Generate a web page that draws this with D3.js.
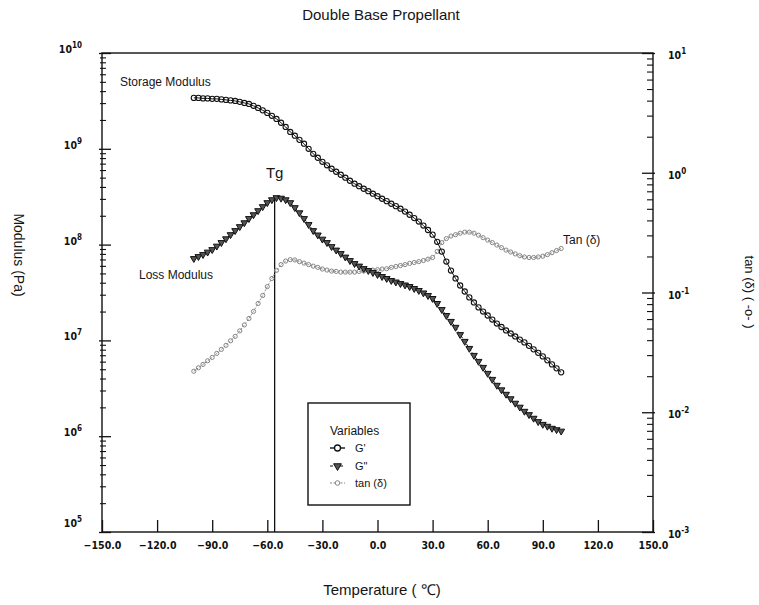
<!DOCTYPE html>
<html>
<head>
<meta charset="utf-8">
<script src="https://cdn.jsdelivr.net/npm/d3@7/dist/d3.min.js"></script>
<style>
  body { margin: 0; background: #fff; }
  text { font-family: "Liberation Sans", Arial, sans-serif; fill: #151515; }
  .tick-label { font-family: "DejaVu Sans Condensed", "Liberation Sans Narrow", sans-serif; font-weight: bold; font-size: 10.5px; fill: #111; }
</style>
</head>
<body>
<svg id="chart" width="759" height="605"></svg>
<script>
// Dynamic mechanical analysis of a double base propellant
const temperatures = [
  -100, -97.5, -95, -92.5, -90, -87.5, -85, -82.5, -80, -77.5,
  -75, -72.5, -70, -67.5, -65, -62.5, -60, -57.5, -55, -52.5,
  -50, -47.5, -45, -42.5, -40, -37.5, -35, -32.5, -30, -27.5,
  -25, -22.5, -20, -17.5, -15, -12.5, -10, -7.5, -5, -2.5,
  0, 2.5, 5, 7.5, 10, 12.5, 15, 17.5, 20, 22.5,
  25, 27.5, 30, 32.5, 35, 37.5, 40, 42.5, 45, 47.5,
  50, 52.5, 55, 57.5, 60, 62.5, 65, 67.5, 70, 72.5,
  75, 77.5, 80, 82.5, 85, 87.5, 90, 92.5, 95, 97.5,
  100
];

// G' storage modulus (Pa)
const storageModulus = [
  3.40e9, 3.40e9, 3.36e9, 3.36e9, 3.32e9, 3.32e9, 3.28e9, 3.24e9, 3.20e9, 3.16e9,
  3.09e9, 3.01e9, 2.94e9, 2.81e9, 2.67e9, 2.52e9, 2.37e9, 2.21e9, 2.05e9, 1.87e9,
  1.69e9, 1.50e9, 1.37e9, 1.24e9, 1.13e9, 1.00e9, 8.87e8, 8.06e8, 7.32e8, 6.73e8,
  6.19e8, 5.76e8, 5.36e8, 4.99e8, 4.64e8, 4.32e8, 4.07e8, 3.83e8, 3.61e8, 3.40e8,
  3.20e8, 3.01e8, 2.84e8, 2.67e8, 2.52e8, 2.37e8, 2.21e8, 2.05e8, 1.89e8, 1.74e8,
  1.58e8, 1.42e8, 1.27e8, 1.07e8, 8.45e7, 6.65e7, 5.36e7, 4.43e7, 3.74e7, 3.24e7,
  2.81e7, 2.49e7, 2.21e7, 2.00e7, 1.82e7, 1.65e7, 1.50e7, 1.38e7, 1.27e7, 1.18e7,
  1.10e7, 1.02e7, 9.53e6, 8.77e6, 8.06e6, 7.41e6, 6.81e6, 6.19e6, 5.62e6, 5.11e6,
  4.64e6
];

// G'' loss modulus (Pa)
const lossModulus = [
  7.15e7, 7.50e7, 7.87e7, 8.35e7, 8.87e7, 9.64e7, 1.05e8, 1.15e8, 1.27e8, 1.40e8,
  1.54e8, 1.69e8, 1.87e8, 2.05e8, 2.26e8, 2.49e8, 2.74e8, 2.94e8, 3.09e8, 3.05e8,
  2.94e8, 2.74e8, 2.43e8, 2.15e8, 1.87e8, 1.62e8, 1.40e8, 1.26e8, 1.14e8, 1.05e8,
  9.53e7, 8.77e7, 8.06e7, 7.41e7, 6.81e7, 6.34e7, 5.97e7, 5.62e7, 5.36e7, 5.11e7,
  4.87e7, 4.64e7, 4.43e7, 4.22e7, 4.07e7, 3.92e7, 3.79e7, 3.65e7, 3.48e7, 3.32e7,
  3.13e7, 2.94e7, 2.74e7, 2.43e7, 2.10e7, 1.82e7, 1.58e7, 1.37e7, 1.15e7, 9.77e6,
  8.25e6, 6.98e6, 6.04e6, 5.23e6, 4.53e6, 3.92e6, 3.40e6, 3.05e6, 2.74e6, 2.46e6,
  2.21e6, 2.01e6, 1.82e6, 1.68e6, 1.54e6, 1.42e6, 1.33e6, 1.27e6, 1.21e6, 1.17e6,
  1.13e6
];

// tan(delta) loss factor
const tanDelta = [
  0.0220, 0.0235, 0.0251, 0.0269, 0.0287, 0.0310, 0.0335, 0.0362, 0.0395, 0.0430,
  0.0478, 0.0536, 0.0607, 0.0695, 0.0810, 0.0944, 0.112, 0.131, 0.153, 0.171,
  0.183, 0.188, 0.187, 0.181, 0.176, 0.171, 0.166, 0.162, 0.157, 0.154,
  0.151, 0.150, 0.148, 0.148, 0.148, 0.148, 0.150, 0.151, 0.153, 0.154,
  0.155, 0.157, 0.158, 0.162, 0.165, 0.168, 0.171, 0.175, 0.178, 0.181,
  0.185, 0.190, 0.196, 0.220, 0.261, 0.282, 0.296, 0.304, 0.313, 0.319,
  0.319, 0.313, 0.301, 0.287, 0.274, 0.261, 0.249, 0.237, 0.226, 0.218,
  0.210, 0.203, 0.198, 0.196, 0.196, 0.198, 0.201, 0.207, 0.215, 0.224,
  0.233
];

const xTicks = [-150, -120, -90, -60, -30, 0, 30, 60, 90, 120, 150];
const modulusExponents = [5, 6, 7, 8, 9, 10];
const tanExponents = [-3, -2, -1, 0, 1];
const glassTransition = -56;   // Tg, deg C (peak of G'')

const W = 759, H = 605;
const plot = { left: 102, right: 653, top: 53, bottom: 532 };

const svg = d3.select("#chart");

const x = d3.scaleLinear().domain([-150, 150]).range([plot.left, plot.right]);
const yMod = d3.scaleLog().domain([1e5, 1e10]).range([plot.bottom, plot.top]);
const yTan = d3.scaleLog().domain([1e-3, 1e1]).range([plot.bottom, plot.top]);

// ---- frame ----
svg.append("rect")
  .attr("x", plot.left).attr("y", plot.top)
  .attr("width", plot.right - plot.left).attr("height", plot.bottom - plot.top)
  .attr("fill", "none").attr("stroke", "#111").attr("stroke-width", 1.4);

// ---- bottom axis ----
const xAxis = d3.axisBottom(x)
  .tickValues(xTicks)
  .tickSize(-12)
  .tickPadding(10)
  .tickFormat(d3.format(".1f"));
const gx = svg.append("g").attr("transform", `translate(0,${plot.bottom})`).call(xAxis);
gx.select(".domain").remove();
gx.selectAll("line").attr("stroke", "#111").attr("stroke-width", 1.3);
gx.selectAll("text").attr("class", "tick-label");

// ---- left (modulus) axis ----
const modMinor = yMod.ticks().filter(v => Math.abs(Math.log10(v) % 1) > 1e-6);
const gl = svg.append("g").attr("transform", `translate(${plot.left - 2},0)`)
  .call(d3.axisRight(yMod).tickValues(modMinor).tickSize(6).tickFormat(""));
gl.select(".domain").remove();
gl.selectAll("line").attr("stroke", "#111").attr("stroke-width", 1.1);
const glMaj = svg.append("g").attr("transform", `translate(${plot.left - 3},0)`)
  .call(d3.axisRight(yMod).tickValues(modulusExponents.map(e => Math.pow(10, e))).tickSize(12).tickFormat(""));
glMaj.select(".domain").remove();
glMaj.selectAll("line").attr("stroke", "#111").attr("stroke-width", 1.3);

const modLabels = svg.append("g");
modulusExponents.forEach(e => {
  const t = modLabels.append("text").attr("class", "tick-label")
    .attr("x", 82).attr("y", yMod(Math.pow(10, e)) + (e === 5 ? -5 : 0))
    .attr("text-anchor", "end");
  t.append("tspan").text("10");
  t.append("tspan").attr("dy", -5).attr("font-size", "8px").text(String(e));
});

// ---- right (tan delta) axis ----
const tanMinor = yTan.ticks().filter(v => Math.abs(Math.log10(v) % 1) > 1e-6);
const gr = svg.append("g").attr("transform", `translate(${plot.right},0)`)
  .call(d3.axisLeft(yTan).tickValues(tanMinor).tickSize(6).tickFormat(""));
gr.select(".domain").remove();
gr.selectAll("line").attr("stroke", "#111").attr("stroke-width", 1.1);
const grMaj = svg.append("g").attr("transform", `translate(${plot.right + 2},0)`)
  .call(d3.axisLeft(yTan).tickValues(tanExponents.map(e => Math.pow(10, e))).tickSize(13).tickFormat(""));
grMaj.select(".domain").remove();
grMaj.selectAll("line").attr("stroke", "#111").attr("stroke-width", 1.3);

const tanLabels = svg.append("g");
tanExponents.forEach(e => {
  const t = tanLabels.append("text").attr("class", "tick-label")
    .attr("x", 668).attr("y", yTan(Math.pow(10, e)) + 6);
  t.append("tspan").text("10");
  t.append("tspan").attr("dy", -5).attr("font-size", "8px").text(e < 0 ? "-" + (-e) : String(e));
});

// ---- Tg marker line ----
const gPeak = d3.max(lossModulus);
svg.append("line")
  .attr("x1", x(glassTransition)).attr("x2", x(glassTransition))
  .attr("y1", yMod(gPeak)).attr("y2", plot.bottom)
  .attr("stroke", "#111").attr("stroke-width", 1.3);
svg.append("text").attr("x", x(glassTransition)).attr("y", yMod(gPeak) - 20)
  .attr("text-anchor", "middle").attr("font-size", "15px").text("Tg");

// ---- series ----
const rows = temperatures.map((t, i) => ({ t, gs: storageModulus[i], gl: lossModulus[i], tan: tanDelta[i] }));

const tanLine = d3.line().x(d => x(d.t)).y(d => yTan(d.tan));
const storageLine = d3.line().x(d => x(d.t)).y(d => yMod(d.gs));
const lossLine = d3.line().x(d => x(d.t)).y(d => yMod(d.gl));

// tan(delta): grey dotted line with small open circles
svg.append("path").datum(rows).attr("d", tanLine)
  .attr("fill", "none").attr("stroke", "#8a8a8a").attr("stroke-width", 1).attr("stroke-dasharray", "2,1.5");
svg.append("g").selectAll("circle").data(rows).join("circle")
  .attr("cx", d => x(d.t)).attr("cy", d => yTan(d.tan)).attr("r", 2.1)
  .attr("fill", "none").attr("stroke", "#858585").attr("stroke-width", 1);

// G'': dashed line with downward triangles
svg.append("path").datum(rows).attr("d", lossLine)
  .attr("fill", "none").attr("stroke", "#111").attr("stroke-width", 1).attr("stroke-dasharray", "3,2");
const tri = d3.symbol().type(d3.symbolTriangle).size(20);
svg.append("g").selectAll("path").data(rows).join("path")
  .attr("d", tri)
  .attr("transform", d => `translate(${x(d.t)},${yMod(d.gl)}) rotate(180)`)
  .attr("fill", "#555").attr("stroke", "#111").attr("stroke-width", 1);

// G': solid line with open circles
svg.append("path").datum(rows).attr("d", storageLine)
  .attr("fill", "none").attr("stroke", "#111").attr("stroke-width", 1);
svg.append("g").selectAll("circle").data(rows).join("circle")
  .attr("cx", d => x(d.t)).attr("cy", d => yMod(d.gs)).attr("r", 2.6)
  .attr("fill", "none").attr("stroke", "#111").attr("stroke-width", 1.1);

// ---- curve annotations ----
svg.append("text").attr("x", 120).attr("y", 86).attr("font-size", "12px").text("Storage Modulus");
svg.append("text").attr("x", 139).attr("y", 279).attr("font-size", "12px").text("Loss Modulus");
svg.append("text").attr("x", 563).attr("y", 244).attr("font-size", "12px").text("Tan (δ)");

// ---- titles ----
svg.append("text").attr("x", 381).attr("y", 20).attr("text-anchor", "middle")
  .attr("font-size", "15px").text("Double Base Propellant");
svg.append("text").attr("x", 382).attr("y", 595).attr("text-anchor", "middle")
  .attr("font-size", "15px").text("Temperature ( ℃)");
svg.append("text").attr("transform", "translate(14,255) rotate(90)").attr("text-anchor", "middle")
  .attr("font-size", "14px").text("Modulus (Pa)");
svg.append("text").attr("transform", "translate(745,292) rotate(90)").attr("text-anchor", "middle")
  .attr("font-size", "13px").text("tan (δ) ( -o- )");

// ---- legend ----
const lg = svg.append("g");
lg.append("rect").attr("x", 308).attr("y", 403).attr("width", 102).attr("height", 102)
  .attr("fill", "#fff").attr("stroke", "#111").attr("stroke-width", 1.4);
lg.append("text").attr("x", 330).attr("y", 435).attr("font-size", "12px").text("Variables");
const legendRows = [
  { label: "G'", kind: "storage", y: 448 },
  { label: "G\"", kind: "loss", y: 466 },
  { label: "tan (δ)", kind: "tan", y: 483 }
];
legendRows.forEach(r => {
  const stroke = r.kind === "tan" ? "#858585" : "#111";
  lg.append("line").attr("x1", 330).attr("x2", 345).attr("y1", r.y).attr("y2", r.y)
    .attr("stroke", stroke).attr("stroke-width", r.kind === "storage" ? 1.4 : 1.2)
    .attr("stroke-dasharray", r.kind === "loss" ? "3,2" : (r.kind === "tan" ? "2,1.5" : null));
  if (r.kind === "loss") {
    lg.append("path").attr("d", d3.symbol().type(d3.symbolTriangle).size(26)())
      .attr("transform", `translate(337.5,${r.y}) rotate(180)`)
      .attr("fill", "#555").attr("stroke", "#111");
  } else {
    lg.append("circle").attr("cx", 337.5).attr("cy", r.y).attr("r", r.kind === "tan" ? 2.3 : 3)
      .attr("fill", "#fff").attr("stroke", stroke).attr("stroke-width", r.kind === "tan" ? 1 : 1.3);
  }
  lg.append("text").attr("x", 355).attr("y", r.y + 4).attr("font-size", "11px")
    .attr("fill", r.kind === "tan" ? "#555" : "#151515").text(r.label);
});
</script>
</body>
</html>
